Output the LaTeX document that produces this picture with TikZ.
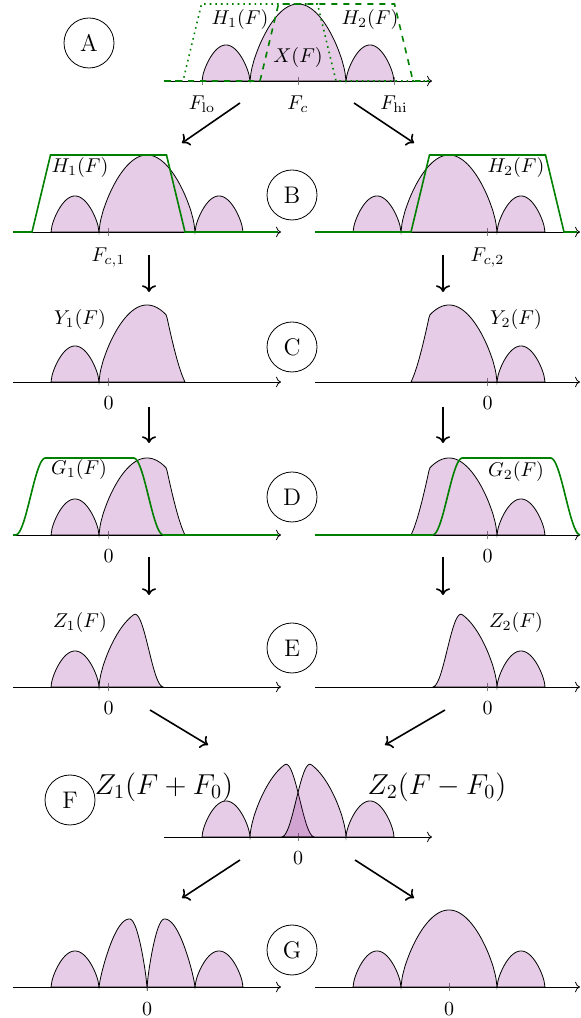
\documentclass[tikz,border=0pt]{standalone}
\usetikzlibrary{arrows.meta}

\begin{document}
\begin{tikzpicture}[
  x=0.5pt, y=0.5pt,
  >=To,
  declare function={
    X(\x)=(abs(\x)<48) ? (77*max(cos(1.875*(\x)),0.0001)^0.65) : ((abs(\x)<96) ? (36*max(sin(3.75*(abs(\x)-48)),0.0001)^0.65) : 0);
    H(\x,\m)=min(1,max(0,(76.5-abs((\x)-(\m)))/18.5));
    G(\x,\m)=(abs((\x)-(\m))<44) ? 1 : ((abs((\x)-(\m))<74) ? (0.5*(1+cos(6*(abs((\x)-(\m))-44)))) : 0);
    W(\x)=(abs(\x)<17.5) ? (68*max(sin(90*abs(\x)/17.5),0.0001)^0.8) : ((abs(\x)<48) ? (68*max(cos(90*(abs(\x)-17.5)/30.5),0.0001)^0.8) : (36*max(sin(3.75*(abs(\x)-48)),0.0001)^0.65));
  },
  axis/.style={->, thin},
  tick/.style={gray, very thin},
  spec/.style={draw=black, fill=violet, fill opacity=0.2},
  filt/.style={green!50!black, thick},
  flow/.style={->, thick},
  lab/.style={inner sep=1pt},
  ticklab/.style={anchor=base, inner sep=0pt},
  stage/.style={draw, circle, minimum size=25pt, inner sep=0pt, font=\large},
  big/.style={inner sep=1pt, font=\Large}
]
\useasboundingbox (0,0) rectangle (581,1018);

% A: input spectrum and the two filters
\begin{scope}[shift={(298,937)}]
  \draw[axis] (-134,0) -- (134,0);
  \foreach \t in {-96,0,96} \draw[tick] (\t,-4) -- (\t,4);
  \filldraw[spec] plot[domain=-96:96, samples=193] (\x,{X(\x)}) -- cycle;
  \draw[filt, dotted] (-134,0) -- (-115,0) -- (-96.5,77) -- (19.5,77) -- (38,0) -- (131,0);
  \draw[filt, dashed] (-134,0) -- (-38,0) -- (-19.5,77) -- (96.5,77) -- (115,0) -- (131,0);
  \node[lab] (hA1) at (-58,61) {$H_1(F)$};
  \node[lab] (hA2) at (72,61) {$H_2(F)$};
  \node[lab] (xA) at (0,23) {$X(F)$};
  \node[ticklab] (flo) at (-96,-29) {$F_{\mathrm{lo}}$};
  \node[ticklab] (fc) at (0,-29) {$F_c$};
  \node[ticklab] (fhi) at (96,-29) {$F_{\mathrm{hi}}$};
\end{scope}

% B
\begin{scope}[shift={(147,786)}]
  \draw[axis] (-134,0) -- (134,0);
  \draw[tick] (-38.5,-4) -- (-38.5,4);
  \filldraw[spec] plot[domain=-96:96, samples=193] (\x,{X(\x)}) -- cycle;
  \draw[filt] (-134,0) -- (-115,0) -- (-96.5,77) -- (19.5,77) -- (38,0) -- (131,0);
  \node[lab] (hB1) at (-67,64) {$H_1(F)$};
  \node[ticklab] (fc1) at (-38.5,-30) {$F_{c,1}$};
\end{scope}
\begin{scope}[shift={(449,786)}]
  \draw[axis] (-134,0) -- (131,0);
  \draw[tick] (38.5,-4) -- (38.5,4);
  \filldraw[spec] plot[domain=-96:96, samples=193] (\x,{X(\x)}) -- cycle;
  \draw[filt] (-134,0) -- (-38,0) -- (-19.5,77) -- (96.5,77) -- (115,0) -- (128,0);
  \node[lab] (hB2) at (67,64) {$H_2(F)$};
  \node[ticklab] (fc2) at (38.5,-30) {$F_{c,2}$};
\end{scope}

% C
\begin{scope}[shift={(147,636)}]
  \draw[axis] (-134,0) -- (134,0);
  \draw[tick] (-38.5,-4) -- (-38.5,4);
  \filldraw[spec] plot[domain=-96:38, samples=135] (\x,{X(\x)*H(\x,-38.5)}) -- cycle;
  \node[lab] (yC1) at (-67,62) {$Y_1(F)$};
  \node[ticklab] (zC1) at (-38.5,-28) {$0$};
\end{scope}
\begin{scope}[shift={(449,636)}]
  \draw[axis] (-134,0) -- (131,0);
  \draw[tick] (38.5,-4) -- (38.5,4);
  \filldraw[spec] plot[domain=-38:96, samples=135] (\x,{X(\x)*H(\x,38.5)}) -- cycle;
  \node[lab] (yC2) at (67,62) {$Y_2(F)$};
  \node[ticklab] (zC2) at (38.5,-28) {$0$};
\end{scope}

% D
\begin{scope}[shift={(147,483)}]
  \draw[axis] (-134,0) -- (134,0);
  \draw[tick] (-38.5,-4) -- (-38.5,4);
  \filldraw[spec] plot[domain=-96:38, samples=135] (\x,{X(\x)*H(\x,-38.5)}) -- cycle;
  \draw[filt] plot[domain=-134:131, samples=266] (\x,{77*G(\x,-57.5)});
  \node[lab] (gD1) at (-68,65) {$G_1(F)$};
  \node[ticklab] (zD1) at (-38.5,-28) {$0$};
\end{scope}
\begin{scope}[shift={(449,483)}]
  \draw[axis] (-134,0) -- (131,0);
  \draw[tick] (38.5,-4) -- (38.5,4);
  \filldraw[spec] plot[domain=-38:96, samples=135] (\x,{X(\x)*H(\x,38.5)}) -- cycle;
  \draw[filt] plot[domain=-134:131, samples=266] (\x,{77*G(\x,57.5)});
  \node[lab] (gD2) at (67,63) {$G_2(F)$};
  \node[ticklab] (zD2) at (38.5,-28) {$0$};
\end{scope}

% E
\begin{scope}[shift={(147,331)}]
  \draw[axis] (-134,0) -- (134,0);
  \draw[tick] (-38.5,-4) -- (-38.5,4);
  \filldraw[spec] plot[domain=-96:16.5, samples=226] (\x,{X(\x)*H(\x,-38.5)*G(\x,-57.5)}) -- cycle;
  \node[lab] (zE1) at (-67,64) {$Z_1(F)$};
  \node[ticklab] (oE1) at (-38.5,-28) {$0$};
\end{scope}
\begin{scope}[shift={(449,331)}]
  \draw[axis] (-134,0) -- (131,0);
  \draw[tick] (38.5,-4) -- (38.5,4);
  \filldraw[spec] plot[domain=-16.5:96, samples=226] (\x,{X(\x)*H(\x,38.5)*G(\x,57.5)}) -- cycle;
  \node[lab] (zE2) at (67,64) {$Z_2(F)$};
  \node[ticklab] (oE2) at (38.5,-28) {$0$};
\end{scope}

% F: shifted copies overlap around 0
\begin{scope}[shift={(298,181)}]
  \draw[axis] (-134,0) -- (134,0);
  \draw[tick] (0,-4) -- (0,4);
  \filldraw[spec] plot[domain=-96:16.5, samples=226] (\x,{X(\x)*H(\x,-38.5)*G(\x,-57.5)}) -- cycle;
  \filldraw[spec] plot[domain=-16.5:96, samples=226] (\x,{X(\x)*H(\x,38.5)*G(\x,57.5)}) -- cycle;
  \node[big] (zF1) at (-134,50) {$Z_1(F+F_0)$};
  \node[big] (zF2) at (139,50) {$Z_2(F-F_0)$};
  \node[ticklab] (oF) at (0,-28) {$0$};
\end{scope}

% G
\begin{scope}[shift={(147,31)}]
  \draw[axis] (-134,0) -- (134,0);
  \draw[tick] (0,-4) -- (0,4);
  \filldraw[spec] plot[domain=-96:96, samples=193] (\x,{W(\x)}) -- cycle;
  \node[ticklab] (oG1) at (0,-28) {$0$};
\end{scope}
\begin{scope}[shift={(449,31)}]
  \draw[axis] (-134,0) -- (131,0);
  \draw[tick] (0,-4) -- (0,4);
  \filldraw[spec] plot[domain=-96:96, samples=193] (\x,{X(\x)}) -- cycle;
  \node[ticklab] (oG2) at (0,-28) {$0$};
\end{scope}

% stage markers
\node[stage] (sA) at (89,975) {A};
\node[stage] (sB) at (292,823) {B};
\node[stage] (sC) at (292,671) {C};
\node[stage] (sD) at (292,521) {D};
\node[stage] (sE) at (292,370) {E};
\node[stage] (sF) at (70,218) {F};
\node[stage] (sG) at (292,68) {G};

% arrows between stages
\foreach \nm/\px/\py in {ab1s/240/915, ab1e/182/875, ab2s/354/915, ab2e/414/875,
    bc1s/149/763, bc1e/149/726, bc2s/443/763, bc2e/443/726,
    cd1s/149/611, cd1e/149/575, cd2s/443/611, cd2e/443/575,
    de1s/149/461, de1e/149/423, de2s/443/461, de2e/443/423,
    ef1s/150/308, ef1e/208/273, ef2s/445/308, ef2e/385/273,
    fg1s/240/158, fg1e/182/120, fg2s/355/158, fg2e/414/120}
  \coordinate (\nm) at (\px,\py);
\foreach \s in {ab1,ab2,bc1,bc2,cd1,cd2,de1,de2,ef1,ef2,fg1,fg2}
  \draw[flow] (\s s) -- (\s e);
\end{tikzpicture}
\end{document}
